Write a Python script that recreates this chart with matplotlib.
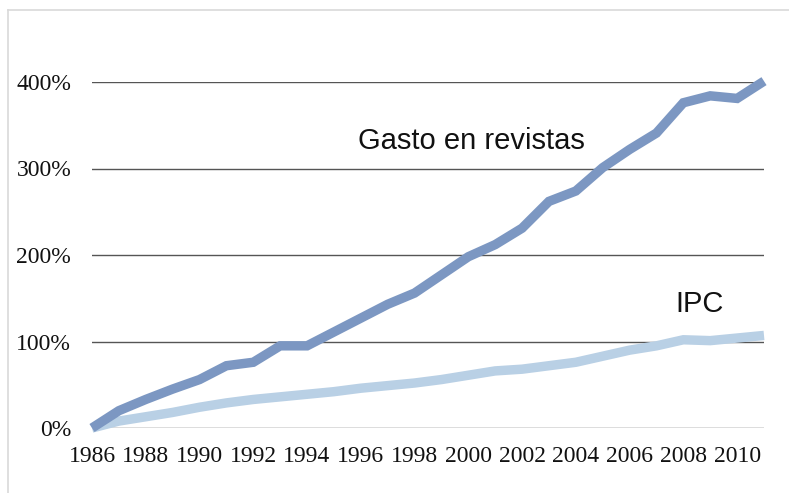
import matplotlib
matplotlib.use("Agg")
import matplotlib.pyplot as plt
from matplotlib.lines import Line2D
from matplotlib.ticker import FuncFormatter

years = list(range(1986, 2012))
gasto = [0, 20, 33, 45, 56, 72, 76, 95, 95, 111, 127, 143, 156, 177, 198, 212, 231, 262, 274, 301, 322, 341, 376, 384, 381, 401]
ipc = [0, 8, 13, 18, 24, 29, 33, 36, 39, 42, 46, 49, 52, 56, 61, 66, 68, 72, 76, 83, 90, 95, 102, 101, 104, 107]
xtick_years = list(range(1986, 2011, 2))
yticks = [0, 100, 200, 300, 400]

fig = plt.figure(figsize=(7.89, 4.93), dpi=100)
fig.patch.set_facecolor("white")

# light frame around chart area (partly cropped)
fig.add_artist(Line2D([8/789, 8/789], [0, 1 - 10/493], transform=fig.transFigure, color="#d9d9d9", lw=1.2))
fig.add_artist(Line2D([8/789, 1], [1 - 10/493, 1 - 10/493], transform=fig.transFigure, color="#d9d9d9", lw=1.2))

ax = fig.add_axes([92/789, 1 - 428/493, 672/789, 346/493])
ax.set_xlim(1986, 2011)
ax.set_ylim(0, 400)

for y in yticks:
    ax.axhline(y, color="#555555", lw=1.0, zorder=1)

ax.plot(years, ipc, color="#B9D0E5", lw=6.8, solid_capstyle="butt", solid_joinstyle="miter", zorder=3, clip_on=False)
ax.plot(years, gasto, color="#7C97C2", lw=6.8, solid_capstyle="butt", solid_joinstyle="miter", zorder=4, clip_on=False)

for s in ax.spines.values():
    s.set_visible(False)

ax.set_xticks(xtick_years)
ax.set_xticklabels([str(y) for y in xtick_years])
ax.set_yticks(yticks)
ax.yaxis.set_major_formatter(FuncFormatter(lambda v, p: f"{int(v)}%"))
ax.tick_params(axis="both", length=0, labelsize=17)
ax.tick_params(axis="x", pad=13)
ax.tick_params(axis="y", pad=15)
for lab in ax.get_xticklabels() + ax.get_yticklabels():
    lab.set_family("Liberation Serif")
    lab.set_color("#111111")

ax.text(2000.1, 332, "Gasto en revistas", fontsize=21, family="Liberation Sans", ha="center", va="center", color="#111111")
ax.text(2008.6, 143, "IPC", fontsize=21, family="Liberation Sans", ha="center", va="center", color="#111111")

fig.savefig("out.png", dpi=100, facecolor="white")
